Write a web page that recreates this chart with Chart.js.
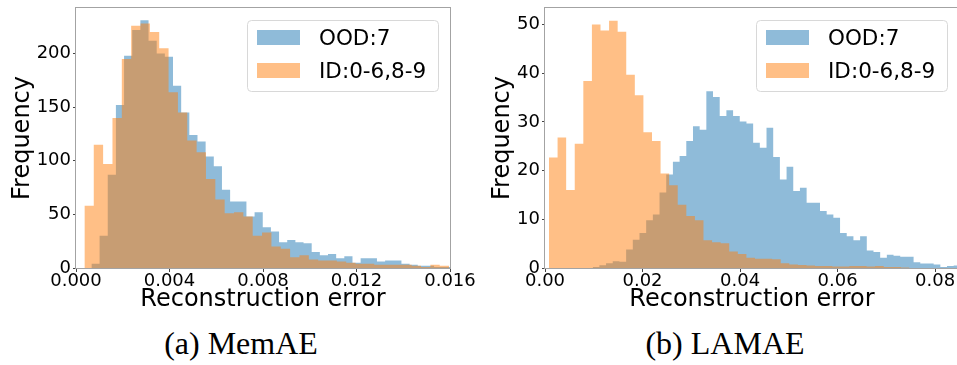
<!DOCTYPE html>
<html>
<head>
<meta charset="utf-8">
<script src="https://cdn.jsdelivr.net/npm/chart.js@4.4.1/dist/chart.umd.min.js"></script>
<style>
  html, body { margin: 0; padding: 0; background: #fff; overflow: hidden; }
  body { width: 957px; height: 365px; position: relative; }
  canvas { position: absolute; top: 0; }
  #memae { left: 0; }
  #lamae { left: 480px; }
  .caption {
    position: absolute; top: 325px; transform: translateX(-50%);
    font-family: "Liberation Serif", serif; font-size: 32px; color: #000; white-space: nowrap;
  }
</style>
</head>
<body>
<canvas id="memae" width="480" height="316"></canvas>
<canvas id="lamae" width="490" height="316"></canvas>
<div class="caption" style="left:241px">(a) MemAE</div>
<div class="caption" style="left:725px">(b) LAMAE</div>
<script>
const seriesLabels = ['OOD:7', 'ID:0-6,8-9'];

// (a) MemAE - histogram bins (first bin edge, bin width, counts)
const memaeOodStart = 0.00066;
const memaeOodWidth = 0.000349;
const memaeOod = [4, 30, 87, 152, 198, 222, 231, 212, 200, 197, 170, 145, 124, 118, 104, 95, 73, 62, 62, 48,
  52, 38, 34, 24, 26, 24, 23, 15, 12, 13, 9, 11, 5, 9, 9, 6, 7, 7, 4, 3, 2, 2, 1, 1];
const memaeIdStart = 0.00036;
const memaeIdWidth = 0.0004;
const memaeId = [58, 115, 97, 140, 195, 226, 228, 220, 205, 164, 145, 119, 108, 83, 64, 51, 52, 48, 30, 33,
  20, 18, 10, 12, 8, 7, 7, 6, 5, 4, 4, 3, 3, 3, 3, 2, 1, 3, 2];
const memaeXTicks = [0, 0.004, 0.008, 0.012, 0.016];
const memaeXLabels = ['0.000', '0.004', '0.008', '0.012', '0.016'];
const memaeYTicks = [0, 50, 100, 150, 200];

// (b) LAMAE
const lamaeOodStart = 0.00978;
const lamaeOodWidth = 0.001371;
const lamaeOod = [0.2, 0.55, 1.0, 1.4, 1.3, 3.8, 5.8, 7.2, 9.8, 11, 15.5, 19.2, 21.8, 23, 26.1, 29.1, 28.4, 36.3,
  35.1, 31.2, 32.4, 31.2, 30.1, 29.7, 25.7, 24.7, 28.8, 22.8, 18.2, 20.8, 15.8, 16.5, 13.4, 13.4, 11.7, 11,
  10.3, 7.2, 6.5, 5.7, 6.5, 3.6, 3.3, 2.1, 2.7, 2.5, 2.3, 2.3, 1.2, 0.9, 0.9, 0.7, 0.2, 0.4, 0.5];
const lamaeIdStart = 0.00082;
const lamaeIdWidth = 0.00176;
const lamaeId = [22.7, 26.8, 16, 25.5, 38.4, 50, 48.8, 50.8, 48.5, 39.7, 35.5, 27.9, 26.1, 19.4, 17, 13, 10.7,
  9.8, 5.7, 5.3, 5.1, 3.4, 2.9, 2.1, 1.9, 1.9, 1.8, 1.0, 0.7, 0.6, 0.5, 0.4, 0.4, 0.3, 0.3, 0.4, 0.4, 0.3,
  0.4, 0.2, 0.2, 0.1];
const lamaeXTicks = [0, 0.02, 0.04, 0.06, 0.08];
const lamaeXLabels = ['0.00', '0.02', '0.04', '0.06', '0.08'];
const lamaeYTicks = [0, 10, 20, 30, 40, 50];

const blue = 'rgba(31, 119, 180, 0.5)';
const orange = 'rgba(255, 127, 14, 0.5)';
const font = 'DejaVu Sans';

// bin counts -> points on the bin left edges, plus a closing edge at 0
const toSteps = (start, width, counts) => {
  const pts = counts.map((c, i) => ({ x: start + i * width, y: c }));
  pts.push({ x: start + counts.length * width, y: 0 });
  return pts;
};

// matplotlib-like frame and legend box
const frameAndLegend = {
  id: 'frameAndLegend',
  afterDatasetsDraw(chart) {
    const { ctx, chartArea: a } = chart;
    ctx.save();
    ctx.strokeStyle = '#a3a3a3';
    ctx.lineWidth = 1;
    ctx.strokeRect(Math.round(a.left) - 0.5, Math.round(a.top) - 0.5,
      Math.round(a.right - a.left) + 1, Math.round(a.bottom - a.top) + 1);

    const w = 191, h = 71;
    const x = Math.round(a.right) - 12 - w, y = Math.round(a.top) + 12;
    ctx.beginPath();
    ctx.roundRect(x + 0.5, y + 0.5, w, h, 4);
    ctx.fillStyle = 'rgba(255, 255, 255, 0.8)';
    ctx.fill();
    ctx.strokeStyle = '#d8d8d8';
    ctx.stroke();
    ctx.font = '21.5px "' + font + '"';
    ctx.textBaseline = 'alphabetic';
    chart.data.datasets.forEach((ds, i) => {
      ctx.fillStyle = ds.backgroundColor;
      ctx.fillRect(x + 10, y + 10 + i * 33, 43, 15);
      ctx.fillStyle = '#000';
      ctx.fillText(ds.label, x + 72, y + 25 + i * 32.7);
    });
    ctx.restore();
  }
};

function histChart(id, cfg) {
  const canvas = document.getElementById(id);
  return new Chart(canvas, {
    type: 'line',
    data: {
      datasets: [
        { label: seriesLabels[0], data: toSteps(cfg.oodStart, cfg.oodWidth, cfg.ood), backgroundColor: blue, order: 2 },
        { label: seriesLabels[1], data: toSteps(cfg.idStart, cfg.idWidth, cfg.id), backgroundColor: orange, order: 1 }
      ].map(ds => Object.assign(ds, {
        stepped: true, fill: 'origin', borderColor: 'transparent', borderWidth: 0, pointRadius: 0
      }))
    },
    options: {
      responsive: false,
      animation: false,
      devicePixelRatio: 1,
      layout: { padding: { top: 8, left: 0, bottom: 0, right: canvas.width - cfg.plotRight } },
      plugins: { legend: { display: false }, tooltip: { enabled: false } },
      scales: {
        x: {
          type: 'linear', min: 0, max: cfg.xMax,
          afterBuildTicks: s => { s.ticks = cfg.xTicks.map(v => ({ value: v })); },
          afterFit: s => { s.height = canvas.height - 268; s.paddingLeft = 0; s.paddingRight = 0; },
          ticks: {
            autoSkip: false, maxRotation: 0, padding: 0, color: '#000',
            font: { family: font, size: 18, lineHeight: 1 },
            callback: (v, i) => cfg.xLabels[i]
          },
          grid: { drawOnChartArea: false, tickLength: 4, color: '#444' },
          border: { display: false },
          title: {
            display: true, text: 'Reconstruction error', color: '#000',
            font: { family: font, size: 24 }, padding: { top: 0, bottom: 2 }
          }
        },
        y: {
          min: 0, max: cfg.yMax,
          afterBuildTicks: s => { s.ticks = cfg.yTicks.map(v => ({ value: v })); },
          afterFit: s => { s.width = cfg.yWidth; s.paddingTop = 0; s.paddingBottom = 0; },
          ticks: { padding: 2, color: '#000', font: { family: font, size: 18, lineHeight: 1 } },
          grid: { drawOnChartArea: false, tickLength: 3, color: '#444' },
          border: { display: false },
          title: {
            display: true, text: 'Frequency', color: '#000',
            font: { family: font, size: 24 }, padding: { top: 8, bottom: 0 }
          }
        }
      }
    },
    plugins: [frameAndLegend]
  });
}

histChart('memae', {
  ood: memaeOod, oodStart: memaeOodStart, oodWidth: memaeOodWidth,
  id: memaeId, idStart: memaeIdStart, idWidth: memaeIdWidth,
  xMax: 0.016, yMax: 242.5, xTicks: memaeXTicks, xLabels: memaeXLabels, yTicks: memaeYTicks,
  yWidth: 76, plotRight: 450
});

histChart('lamae', {
  ood: lamaeOod, oodStart: lamaeOodStart, oodWidth: lamaeOodWidth,
  id: lamaeId, idStart: lamaeIdStart, idWidth: lamaeIdWidth,
  xMax: 0.0849, yMax: 53.4, xTicks: lamaeXTicks, xLabels: lamaeXLabels, yTicks: lamaeYTicks,
  yWidth: 65, plotRight: 479
});
</script>
</body>
</html>
